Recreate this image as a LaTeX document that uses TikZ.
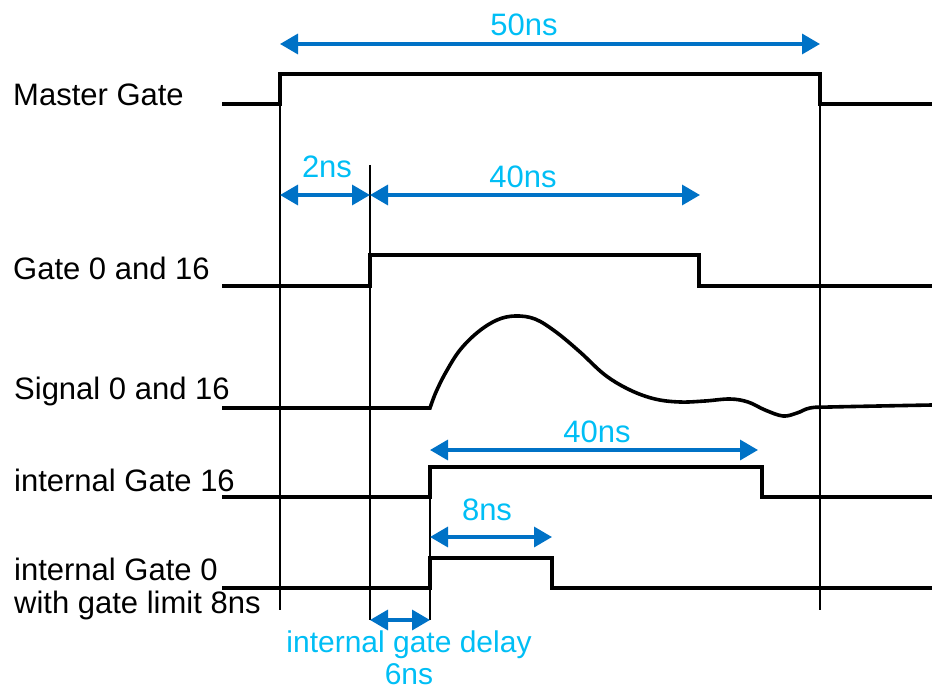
\documentclass[tikz,border=0pt]{standalone}
\usepackage{fontspec}
\setmainfont{Liberation Sans}
\usetikzlibrary{arrows.meta}
\definecolor{dimblue}{RGB}{0,114,198}
\definecolor{tagcyan}{RGB}{0,190,245}

\begin{document}
\begin{tikzpicture}[x=1pt,y=-1pt,
 sig/.style={line width=3.6pt},
 guide/.style={line width=1.4pt},
 dim/.style={dimblue, line width=3.4pt, {Triangle[length=18pt,width=20pt]}-{Triangle[length=18pt,width=20pt]}},
 rowname/.style={anchor=base west, inner sep=0pt, font=\fontsize{31}{36}\selectfont},
 tag/.style={anchor=base, inner sep=0pt, tagcyan, font=\fontsize{31}{36}\selectfont}]
\useasboundingbox (0,0) rectangle (932,690);

% Row names
\node[rowname] (mgate) at (13,106) {Master Gate};
\node[rowname] (gate) at (13,279) {Gate 0 and 16};
\node[rowname] (signal) at (14,399) {Signal 0 and 16};
\node[rowname] (igate16) at (14,491) {internal Gate 16};
\node[rowname] (igate0) at (14,580) {internal Gate 0};
\node[rowname] (limit) at (14,613) {with gate limit 8ns};

% Gates (black)
\draw[sig] (222,104) -- (280,104) -- (280,74) -- (820,74) -- (820,104) -- (932,104);
\draw[sig] (222,286) -- (370,286) -- (370,255) -- (699,255) -- (699,286) -- (932,286);
\draw[sig] (222,497) -- (430,497) -- (430,467) -- (762,467) -- (762,497) -- (932,497);
\draw[sig] (222,588) -- (430,588) -- (430,558) -- (552,558) -- (552,588) -- (932,588);

% Signal pulse
\draw[sig] (222,408) -- (430,408) -- plot[smooth, tension=0.6] coordinates {
 (430,408) (436,392) (446,372) (460,350) (478,332) (497,320) (515,316)
 (535,319) (556,332) (580,352) (605,375) (630,390) (655,399) (680,402)
 (705,401) (730,399) (748,402) (765,410) (783,416) (797,413) (810,408)
 (830,407) (932,405)};

% Thin guide lines
\draw[guide] (280,104) -- (280,610);
\draw[guide] (820,104) -- (820,610);
\draw[guide] (370,165) -- (370,620);
\draw[guide] (430,467) -- (430,620);

% Dimension arrows (blue)
\coordinate (a50l) at (280,44); \coordinate (a50r) at (820,44);
\coordinate (a2l) at (280,195); \coordinate (a2r) at (370,195);
\coordinate (a40l) at (370,195); \coordinate (a40r) at (700,195);
\coordinate (b40l) at (430,450); \coordinate (b40r) at (758,450);
\coordinate (a8l) at (430,537); \coordinate (a8r) at (552,537);
\coordinate (a6l) at (370,620); \coordinate (a6r) at (430,620);
\draw[dim] (a50l) -- (a50r);
\draw[dim] (a2l) -- (a2r);
\draw[dim] (a40l) -- (a40r);
\draw[dim] (b40l) -- (b40r);
\draw[dim] (a8l) -- (a8r);
\draw[dim] (a6l) -- (a6r);

% Labels (cyan)
\node[tag] (t50) at (524,36) {50ns};
\node[tag] (t2) at (327,178) {2ns};
\node[tag] (t40) at (523,188) {40ns};
\node[tag] (u40) at (597,442) {40ns};
\node[tag] (t8) at (487,520) {8ns};
\node[tag, font=\fontsize{30}{34}\selectfont] (tdelay) at (409,652) {internal gate delay};
\node[tag, font=\fontsize{30}{34}\selectfont] (t6) at (409,684) {6ns};
\end{tikzpicture}
\end{document}
